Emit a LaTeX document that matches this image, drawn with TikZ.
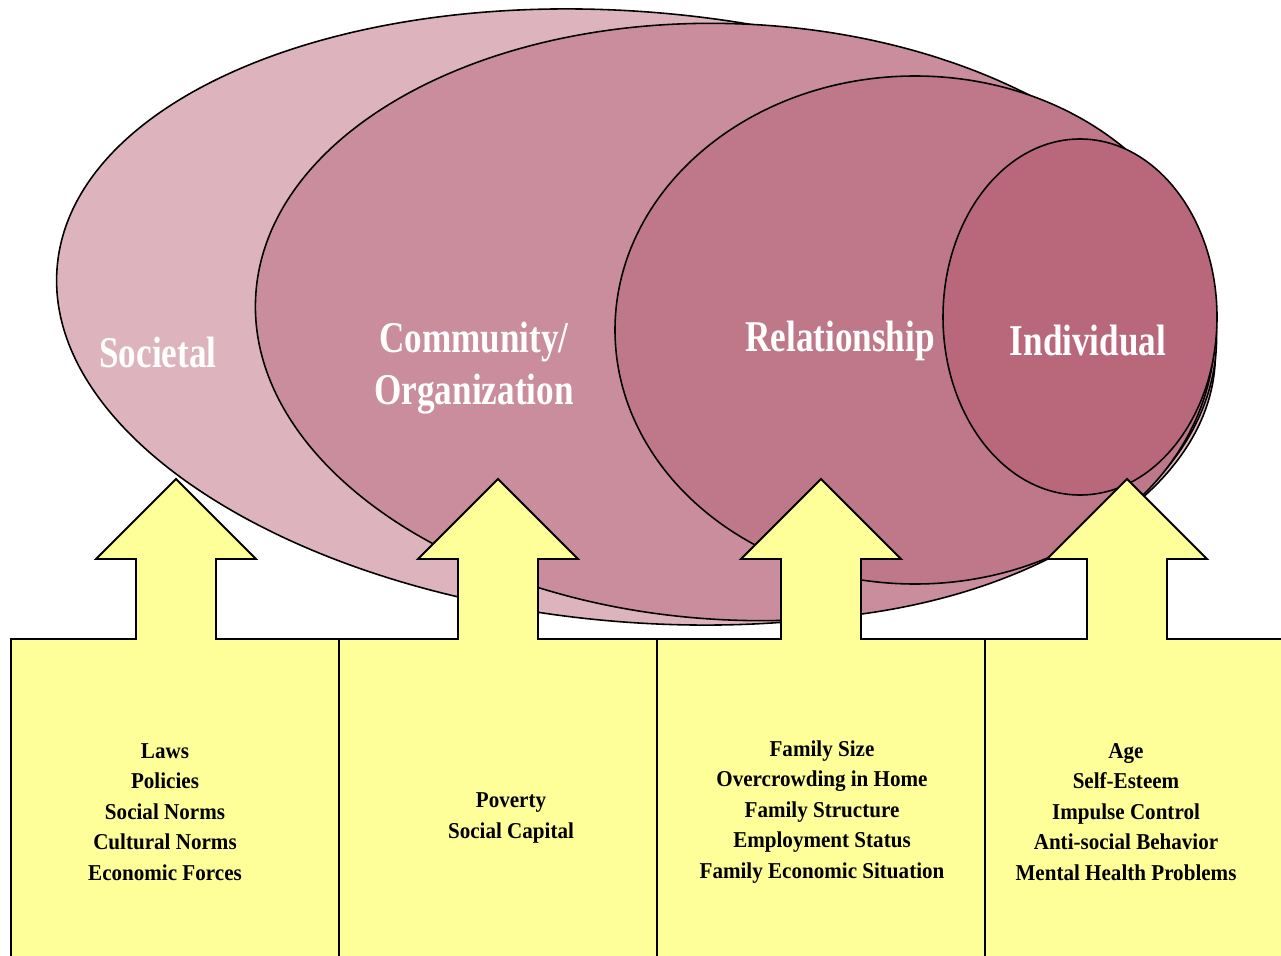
\documentclass[tikz,border=0pt]{standalone}
\usepackage{fontspec}
\setmainfont{Liberation Serif}
\newfontfamily\headfont{Liberation Serif}[FakeStretch=0.8]
\newfontfamily\listfont{Liberation Serif}[FakeStretch=0.93]
\definecolor{socpink}{HTML}{DDB4BE}
\definecolor{compink}{HTML}{C98D9D}
\definecolor{relpink}{HTML}{BE788A}
\definecolor{indpink}{HTML}{B9687C}
\definecolor{boxyellow}{HTML}{FFFF99}
\tikzset{
  ring/.style={draw=black, line width=0.9pt},
  arrowbox/.style={draw=black, line width=1.1pt, fill=boxyellow},
  level/.style={text=white, align=center, inner sep=0pt, font=\headfont\bfseries\fontsize{25}{29.5}\selectfont},
  factors/.style={align=center, inner sep=0pt, font=\listfont\bfseries\fontsize{12.9}{17.4}\selectfont}
}

\begin{document}
\begin{tikzpicture}[x=0.02cm, y=-0.02cm]
\clip (0,0) rectangle (1281,956);
\fill[white] (0,0) rectangle (1281,956);
% the four nested levels, outermost first
\draw[ring, fill=socpink, rotate around={-5:(636,317)}] (636,317) ellipse [x radius=581, y radius=305];
\draw[ring, fill=compink, rotate around={-3:(736,322)}] (736,322) ellipse [x radius=481, y radius=298];
\draw[ring, fill=relpink] (915,330) ellipse [x radius=300, y radius=254];
\draw[ring, fill=indpink] (1080,317) ellipse [x radius=137, y radius=178];
\node[level] (soc) at (158,352) {Societal};
\node[level] (com) at (474,368) {Community/\\Organization};
\node[level] (rel) at (840,341) {Relationship};
\node[level] (ind) at (1088,341) {Individual};
% yellow boxes, each with an arrow pointing up
\foreach \l/\c/\r in {11/176/339, 339/498/657, 657/821/985, 985/1127/1295}
  \draw[arrowbox] (\l,1000) |- (\c-40,639) -- (\c-40,559) -- (\c-80,559) -- (\c,479)
    -- (\c+80,559) -- (\c+40,559) -- (\c+40,639) -| (\r,1000);
\node[factors] (socf) at (165,812) {Laws\\Policies\\Social Norms\\Cultural Norms\\Economic Forces};
\node[factors] (comf) at (511,818) {Poverty\\Social Capital};
\node[factors] (relf) at (822,812) {Family Size\\Overcrowding in Home\\Family Structure\\Employment Status\\Family Economic Situation};
\node[factors] (indf) at (1126,812) {Age\\Self-Esteem\\Impulse Control\\Anti-social Behavior\\Mental Health Problems};
\end{tikzpicture}
\end{document}
